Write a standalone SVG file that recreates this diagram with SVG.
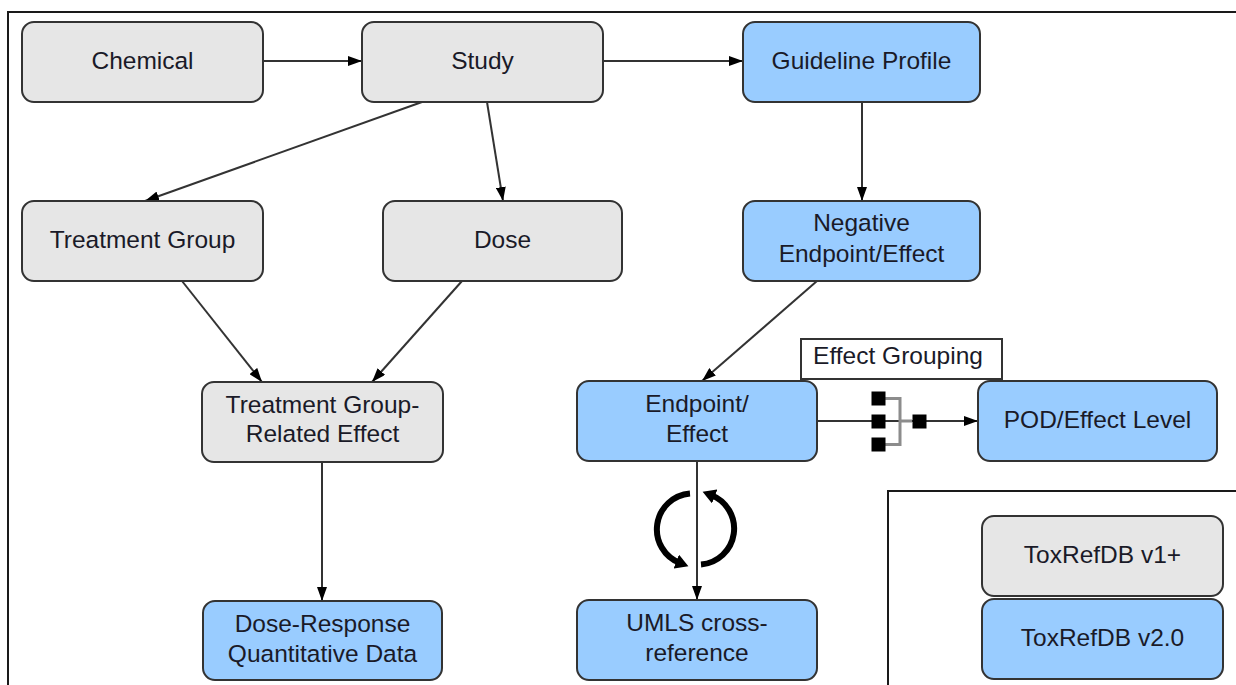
<svg xmlns="http://www.w3.org/2000/svg" width="1236" height="685" viewBox="0 0 1236 685">
  <defs>
    <style>
      .frame { fill: #ffffff; stroke: #1a1a1a; stroke-width: 2; }
      .node rect { stroke: #333333; stroke-width: 2; }
      .v1 rect { fill: #e6e6e6; }
      .v2 rect { fill: #99ccff; }
      text { font-family: "Liberation Sans", Arial, sans-serif; font-size: 24.5px; fill: #1a1a28; text-anchor: middle; }
      .conn { stroke: #333333; stroke-width: 2; fill: none; }
      .cycle { stroke: #000000; stroke-width: 6; fill: none; }
    </style>
    <marker id="arrow" markerUnits="userSpaceOnUse" markerWidth="14" markerHeight="10" refX="14" refY="5" orient="auto">
      <path d="M0,0 L14,5 L0,10 z" fill="#000000"/>
    </marker>
    <marker id="cycleHead" markerUnits="userSpaceOnUse" markerWidth="14" markerHeight="15" refX="4" refY="7.5" orient="auto">
      <path d="M0,0 L13,7.5 L0,15 z" fill="#000000"/>
    </marker>
  </defs>

  <rect width="1236" height="685" fill="#ffffff"/>
  <!-- outer frame and legend frame, both run off the canvas edge -->
  <rect class="frame" x="8" y="12" width="1260" height="700"/>
  <rect class="frame" x="888" y="491" width="400" height="220"/>

  <!-- connectors -->
  <g id="connectors">
    <path class="conn" d="M263,61 H362" marker-end="url(#arrow)"/>
    <path class="conn" d="M603,61 H743" marker-end="url(#arrow)"/>
    <path class="conn" d="M422,102 L145,201" marker-end="url(#arrow)"/>
    <path class="conn" d="M487,102 L503,201" marker-end="url(#arrow)"/>
    <path class="conn" d="M862,101 V201" marker-end="url(#arrow)"/>
    <path class="conn" d="M182,281 L262,382" marker-end="url(#arrow)"/>
    <path class="conn" d="M462,281 L372,382" marker-end="url(#arrow)"/>
    <path class="conn" d="M817,281 L702,381" marker-end="url(#arrow)"/>
    <path class="conn" d="M322,462 V601" marker-end="url(#arrow)"/>
    <path class="conn" d="M697,461 V600" marker-end="url(#arrow)"/>
    <path class="conn" d="M817,421 H978" marker-end="url(#arrow)"/>

    <!-- grouping symbol on the Endpoint/Effect to POD link -->
    <g id="grouping">
      <path d="M885,398.5 H900 V444.5 H885 M900,421 H912" stroke="#8c8c8c" stroke-width="3" fill="none"/>
      <rect x="871.5" y="391.5" width="14" height="14" fill="#000000"/>
      <rect x="871.5" y="414.5" width="14" height="14" fill="#000000"/>
      <rect x="871.5" y="437.5" width="14" height="14" fill="#000000"/>
      <rect x="912.5" y="414.5" width="14" height="14" fill="#000000"/>
    </g>

    <!-- cycle symbol around the UMLS link -->
    <g id="cycle">
      <path class="cycle" d="M690,493.5 A36,36 0 0 0 680,563" marker-end="url(#cycleHead)"/>
      <path class="cycle" d="M701,564.5 A36,36 0 0 0 711,495" marker-end="url(#cycleHead)"/>
    </g>
  </g>

  <!-- nodes -->
  <g id="chemical" class="node v1">
    <rect x="22" y="22" width="241" height="80" rx="12"/>
    <text x="142.5" y="69">Chemical</text>
  </g>
  <g id="study" class="node v1">
    <rect x="362" y="22" width="241" height="80" rx="12"/>
    <text x="482.5" y="69">Study</text>
  </g>
  <g id="guideline-profile" class="node v2">
    <rect x="743" y="22" width="237" height="80" rx="12"/>
    <text x="861.5" y="69">Guideline Profile</text>
  </g>
  <g id="treatment-group" class="node v1">
    <rect x="22" y="201" width="241" height="80" rx="12"/>
    <text x="142.5" y="248">Treatment Group</text>
  </g>
  <g id="dose" class="node v1">
    <rect x="383" y="201" width="239" height="80" rx="12"/>
    <text x="502.5" y="248">Dose</text>
  </g>
  <g id="negative-endpoint" class="node v2">
    <rect x="743" y="201" width="237" height="80" rx="12"/>
    <text x="861.5" y="231">Negative</text>
    <text x="861.5" y="262">Endpoint/Effect</text>
  </g>
  <g id="tg-related-effect" class="node v1">
    <rect x="202" y="382" width="241" height="80" rx="12"/>
    <text x="322.5" y="413">Treatment Group-</text>
    <text x="322.5" y="442">Related Effect</text>
  </g>
  <g id="endpoint-effect" class="node v2">
    <rect x="577" y="381" width="240" height="80" rx="12"/>
    <text x="697" y="412">Endpoint/</text>
    <text x="697" y="442">Effect</text>
  </g>
  <g id="effect-grouping">
    <rect x="801" y="339" width="201" height="40" fill="#ffffff" stroke="#333333" stroke-width="2"/>
    <text x="898" y="364">Effect Grouping</text>
  </g>
  <g id="pod-effect-level" class="node v2">
    <rect x="978" y="381" width="239" height="80" rx="12"/>
    <text x="1097.5" y="428">POD/Effect Level</text>
  </g>
  <g id="dose-response" class="node v2">
    <rect x="203" y="601" width="239" height="79" rx="12"/>
    <text x="322.5" y="632">Dose-Response</text>
    <text x="322.5" y="662">Quantitative Data</text>
  </g>
  <g id="umls" class="node v2">
    <rect x="577" y="600" width="240" height="80" rx="12"/>
    <text x="697" y="631">UMLS cross-</text>
    <text x="697" y="661">reference</text>
  </g>

  <!-- legend -->
  <g id="legend-v1" class="node v1">
    <rect x="982" y="516" width="241" height="80" rx="12"/>
    <text x="1102.5" y="563">ToxRefDB v1+</text>
  </g>
  <g id="legend-v2" class="node v2">
    <rect x="982" y="599" width="241" height="80" rx="12"/>
    <text x="1102.5" y="646">ToxRefDB v2.0</text>
  </g>
</svg>
